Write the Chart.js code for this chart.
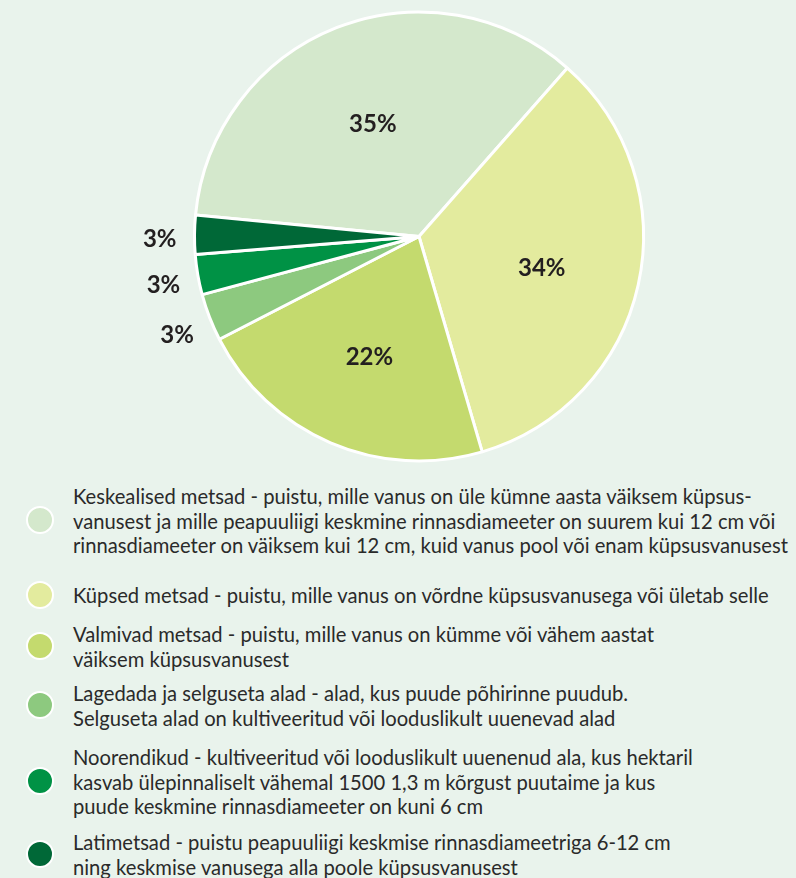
<!DOCTYPE html>
<html>
<head>
<meta charset="utf-8">
<script src="https://cdn.jsdelivr.net/npm/chart.js@4"></script>
<style>
  html, body { margin: 0; padding: 0; background: #e9f3ec; }
  body { width: 796px; height: 878px; position: relative; overflow: hidden; font-family: Lato, "Open Sans", sans-serif; }
  #wrap { position: absolute; left: 0; top: 0; width: 796px; height: 475px; }
  .item { position: absolute; left: 0; width: 796px; }
  .dot { position: absolute; left: 26px; width: 24px; height: 24px; border-radius: 50%; border: 2.5px solid #fff; box-sizing: content-box; }
  .txt { position: absolute; left: 73px; font-size: 20.2px; line-height: 24.5px; color: #2a2a2a; white-space: nowrap; }
</style>
</head>
<body>
<div id="wrap"><canvas id="c"></canvas></div>
<div id="legend"></div>
<script>
const categories = [
  "Keskealised metsad - puistu, mille vanus on üle kümne aasta väiksem küpsus-\nvanusest ja mille peapuuliigi keskmine rinnasdiameeter on suurem kui 12 cm või\nrinnasdiameeter on väiksem kui 12 cm, kuid vanus pool või enam küpsusvanusest",
  "Küpsed metsad - puistu, mille vanus on võrdne küpsusvanusega või ületab selle",
  "Valmivad metsad - puistu, mille vanus on kümme või vähem aastat\nväiksem küpsusvanusest",
  "Lagedada ja selguseta alad - alad, kus puude põhirinne puudub.\nSelguseta alad on kultiveeritud või looduslikult uuenevad alad",
  "Noorendikud - kultiveeritud või looduslikult uuenenud ala, kus hektaril\nkasvab ülepinnaliselt vähemal 1500 1,3 m kõrgust puutaime ja kus\npuude keskmine rinnasdiameeter on kuni 6 cm",
  "Latimetsad - puistu peapuuliigi keskmise rinnasdiameetriga 6-12 cm\nning keskmise vanusega alla poole küpsusvanusest"
];
const values = [35, 34, 22, 3.4, 2.9, 2.8];
const colors = ["#d4e8cc", "#e3eb9e", "#c4da6e", "#8dc97f", "#009245", "#006837"];
const legendTops = [484, 583, 622, 681, 745, 830];

// legend
const legend = document.getElementById('legend');
categories.forEach((t, i) => {
  const lines = t.split('\n');
  const h = lines.length * 24.5;
  const it = document.createElement('div');
  it.className = 'item';
  it.style.top = legendTops[i] + 'px';
  it.style.height = h + 'px';
  const d = document.createElement('div');
  d.className = 'dot';
  d.style.background = colors[i];
  d.style.top = (h / 2 - 14.5) + 'px';
  const tx = document.createElement('div');
  tx.className = 'txt';
  lines.forEach((l, k) => { if (k) tx.appendChild(document.createElement('br')); tx.appendChild(document.createTextNode(l)); });
  it.appendChild(d); it.appendChild(tx);
  legend.appendChild(it);
});

const labelPlugin = {
  id: 'pctLabels',
  afterDatasetsDraw(chart) {
    const ctx = chart.ctx;
    const meta = chart.getDatasetMeta(0);
    const total = values.reduce((a, b) => a + b, 0);
    ctx.save();
    ctx.font = 'bold 24px Lato, "Open Sans", sans-serif';
    ctx.fillStyle = '#231f20';
    ctx.textAlign = 'center';
    ctx.textBaseline = 'middle';
    meta.data.forEach((arc, i) => {
      const p = arc.getProps(['x', 'y', 'startAngle', 'endAngle', 'outerRadius'], true);
      const mid = (p.startAngle + p.endAngle) / 2;
      const share = values[i] / total;
      const r = share < 0.05 ? p.outerRadius * 1.155 : p.outerRadius * 0.56;
      const x = p.x + Math.cos(mid) * r;
      const y = p.y + Math.sin(mid) * r + 5;
      ctx.fillText(Math.round(values[i]) + '%', x, y);
    });
    ctx.restore();
  }
};

new Chart(document.getElementById('c'), {
  type: 'pie',
  data: {
    labels: categories,
    datasets: [{
      data: values,
      backgroundColor: colors,
      borderColor: '#ffffff',
      borderWidth: 3
    }]
  },
  options: {
    responsive: true,
    maintainAspectRatio: false,
    animation: false,
    rotation: 275.5,
    layout: { padding: { left: 193, right: 151, top: 10, bottom: 12 } },
    plugins: { legend: { display: false }, tooltip: { enabled: false } }
  },
  plugins: [labelPlugin]
});
</script>
</body>
</html>
